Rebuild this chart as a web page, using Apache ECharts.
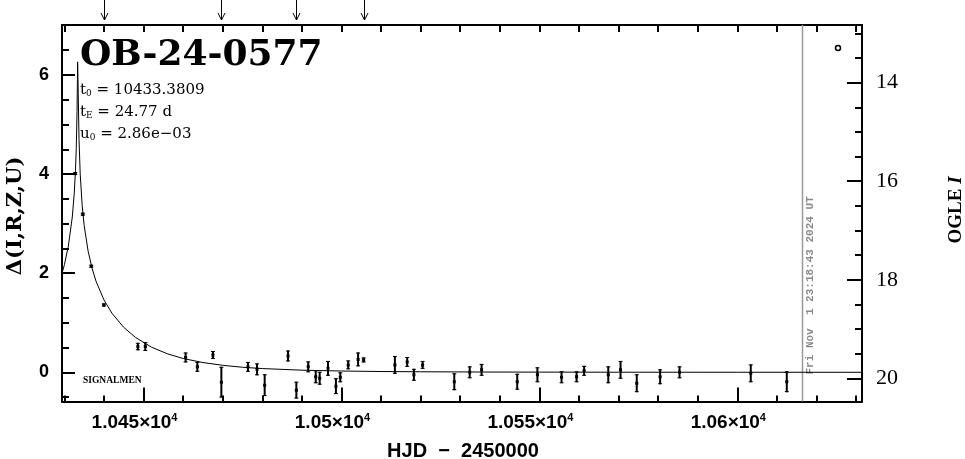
<!DOCTYPE html>
<html><head><meta charset="utf-8">
<script src="https://cdn.jsdelivr.net/npm/echarts@6/dist/echarts.min.js"></script>
<style>html,body{margin:0;padding:0;background:#fff}#c{width:965px;height:459px}</style>
</head><body><div id="c"></div>
<script>
// ---- axis ranges & ticks ----
const xMin = 10429.4, xMax = 10631.5;
const yMin = -0.589, yMax = 7.009;
const magMin = 12.829, magMax = 20.471;
const xMajorTicks = [10450, 10500, 10550, 10600];
const xMinorTicks = [10430,10440,10460,10470,10480,10490,10510,10520,10530,10540,10560,10570,10580,10590,10610,10620,10630];
const xTopTicks = [10430,10440,10450,10460,10470,10480,10490,10500,10510,10520,10530,10540,10550,10560,10570,10580,10590,10600,10610,10620,10630];
const yMajorTicks = [0, 2, 4, 6];
const yMinorTicks = [-0.5,0.5,1,1.5,2.5,3,3.5,4.5,5,5.5,6.5];
const magMajorTicks = [14, 16, 18, 20];
const magMinorTicks = [13,13.5,14.5,15,15.5,16.5,17,17.5,18.5,19,19.5];
const xTickLabels = {10450:'1.045', 10500:'1.05', 10550:'1.055', 10600:'1.06'};

// ---- observations (HJD-2450000, Δ, error) ----
const obsDay = [10432.74,10434.66,10436.79,10439.98,10448.57,10450.44,10460.63,10463.59,10467.53,10469.66,
  10476.38,10478.66,10480.60,10486.50,10488.60,10491.60,10493.50,10494.50,10496.60,10498.60,
  10499.70,10501.70,10504.20,10505.60,10513.50,10516.60,10518.30,10520.50,10528.50,10532.40,
  10535.40,10544.40,10549.50,10555.60,10559.40,10561.30,10567.40,10570.50,10574.60,10580.50,
  10585.40,10603.40,10612.50];
const obsDelta = [4.01,3.19,2.14,1.36,0.52,0.52,0.30,0.11,0.35,-0.20,
  0.11,0.06,-0.26,0.33,-0.36,0.11,-0.09,-0.12,0.08,-0.28,
  -0.10,0.15,0.26,0.25,0.15,0.21,-0.05,0.15,-0.19,0.00,
  0.05,-0.19,-0.05,-0.10,-0.09,0.03,-0.05,0.05,-0.22,-0.09,
  0.00,-0.02,-0.19];
const obsErr = [0.03,0.03,0.03,0.03,0.075,0.09,0.10,0.10,0.08,0.31,
  0.10,0.12,0.22,0.11,0.17,0.11,0.13,0.13,0.15,0.16,
  0.10,0.09,0.14,0.05,0.18,0.10,0.12,0.08,0.17,0.12,
  0.12,0.16,0.15,0.12,0.11,0.10,0.17,0.18,0.18,0.15,
  0.12,0.18,0.21];

// ---- model curve samples ----
const modelDay = [10429.4,10430,10431,10432,10432.5,10432.8,10433,10433.2,10433.3,10433.35,10433.5,10433.7,10434,10434.5,10435,
  10436,10437,10438,10440,10442,10445,10448,10452,10456,10460,10465,10470,10475,10480,10490,10500,10510,10520,10535,10550,10570,10600,10631.5];
const modelDelta = [1.995,2.170,2.546,3.134,3.620,4.066,4.514,5.264,5.906,6.265,5.631,4.699,3.999,3.361,2.962,
  2.444,2.097,1.837,1.461,1.194,0.906,0.702,0.508,0.374,0.279,0.197,0.141,0.102,0.076,0.043,0.026,0.016,0.011,0.006,0.004,0.002,0.001,0.0005];

const arrowDays = [10439.98, 10469.66, 10488.60, 10505.60];
const nowDay = 10616.47;
const nowText = 'Fri Nov  1 23:18:43 2024 UT';

const chart = echarts.init(document.getElementById('c'), null, {renderer:'canvas'});
const black = '#000';
const noLine = {show:false, onZero:false};

const option = {
  animation: false,
  backgroundColor: '#fff',
  grid: {left: 62, top: 25, width: 800, height: 376.5},
  xAxis: [
    {type:'value', position:'bottom', min:xMin, max:xMax,
     axisLine:{show:true, onZero:false, lineStyle:{color:black, width:2}},
     axisTick:{show:true, inside:true, length:14, customValues:xMajorTicks, lineStyle:{color:black, width:2}},
     axisLabel:{show:true, customValues:xMajorTicks, margin:11, color:black, padding:[0,18,0,0],
       formatter: v => '{m|' + xTickLabels[Math.round(v)] + '×10}{s|4}',
       rich:{m:{fontFamily:'Liberation Sans', fontWeight:'bold', fontSize:19, color:black},
             s:{fontFamily:'Liberation Sans', fontWeight:'bold', fontSize:11, color:black, verticalAlign:'top', padding:[0,0,9,0]}}},
     splitLine:{show:false}},
    {type:'value', position:'bottom', min:xMin, max:xMax, axisLine:noLine,
     axisTick:{show:true, inside:true, length:6, customValues:xMinorTicks, lineStyle:{color:black, width:2}},
     axisLabel:{show:false}, splitLine:{show:false}},
    {type:'value', position:'top', min:xMin, max:xMax,
     axisLine:{show:true, onZero:false, lineStyle:{color:black, width:2}},
     axisTick:{show:true, inside:true, length:7, customValues:xTopTicks, lineStyle:{color:black, width:2}},
     axisLabel:{show:false}, splitLine:{show:false}}
  ],
  yAxis: [
    {type:'value', position:'left', min:yMin, max:yMax,
     axisLine:{show:true, onZero:false, lineStyle:{color:black, width:2}},
     axisTick:{show:true, inside:true, length:13, customValues:yMajorTicks, lineStyle:{color:black, width:2}},
     axisLabel:{show:true, customValues:yMajorTicks, margin:13, color:black, fontFamily:'Liberation Sans', fontWeight:'bold', fontSize:18},
     splitLine:{show:false}},
    {type:'value', position:'left', min:yMin, max:yMax, axisLine:noLine,
     axisTick:{show:true, inside:true, length:7, customValues:yMinorTicks, lineStyle:{color:black, width:2}},
     axisLabel:{show:false}, splitLine:{show:false}},
    {type:'value', position:'right', inverse:true, min:magMin, max:magMax,
     axisLine:{show:true, onZero:false, lineStyle:{color:black, width:2}},
     axisTick:{show:true, inside:true, length:15, customValues:magMajorTicks, lineStyle:{color:black, width:2}},
     axisLabel:{show:true, customValues:magMajorTicks, margin:14, color:black, fontFamily:'Liberation Serif', fontSize:22},
     splitLine:{show:false}},
    {type:'value', position:'right', inverse:true, min:magMin, max:magMax, axisLine:noLine,
     axisTick:{show:true, inside:true, length:7, customValues:magMinorTicks, lineStyle:{color:black, width:2}},
     axisLabel:{show:false}, splitLine:{show:false}}
  ],
  series: [
    {type:'line', xAxisIndex:0, yAxisIndex:0, data: modelDay.map((d,i)=>[d, modelDelta[i]]),
     showSymbol:false, symbol:'none', smooth:false, clip:true,
     lineStyle:{color:black, width:1}},
    {type:'custom', xAxisIndex:0, yAxisIndex:0, clip:true,
     data: obsDay.map((d,i)=>[d, obsDelta[i], obsErr[i]]),
     renderItem: (params, api) => {
       const x = api.value(0), y = api.value(1), e = api.value(2);
       const c = api.coord([x, y]), hi = api.coord([x, y + e]), lo = api.coord([x, y - e]);
       const st = {stroke:black, lineWidth:2};
       return {type:'group', children:[
         {type:'line', shape:{x1:c[0], y1:hi[1], x2:c[0], y2:lo[1]}, style:st},
         {type:'line', shape:{x1:c[0]-2, y1:hi[1]+0.5, x2:c[0]+2, y2:hi[1]+0.5}, style:{stroke:black, lineWidth:1}},
         {type:'line', shape:{x1:c[0]-2, y1:lo[1]-0.5, x2:c[0]+2, y2:lo[1]-0.5}, style:{stroke:black, lineWidth:1}},
         {type:'rect', shape:{x:c[0]-1.5, y:c[1]-1.5, width:3, height:3}, style:{fill:black}}
       ]};
     }},
    {type:'custom', xAxisIndex:0, yAxisIndex:0, clip:false,
     data: arrowDays.map(d=>[d]),
     renderItem: (params, api) => {
       const p = api.coord([api.value(0), yMax]);
       const x = Math.round(p[0]) + 0.5, top = p[1];
       const st = {stroke:black, lineWidth:1, fill:null};
       return {type:'group', children:[
         {type:'line', shape:{x1:x, y1:top-25, x2:x, y2:top-5}, style:st},
         {type:'polyline', shape:{points:[[x-3.5, top-12], [x, top-5], [x+3.5, top-12]]}, style:st}
       ]};
     }},
    {type:'custom', xAxisIndex:0, yAxisIndex:0, clip:false,
     data: [[nowDay]],
     renderItem: (params, api) => {
       const t = api.coord([api.value(0), yMax]), b = api.coord([api.value(0), yMin]);
       return {type:'group', children:[
         {type:'line', shape:{x1:t[0], y1:t[1], x2:t[0], y2:b[1]}, style:{stroke:'#9a9a9a', lineWidth:1.5}},
         {type:'text', x:t[0]+7.5, y:b[1]-27, rotation:Math.PI/2,
          style:{text:nowText, fill:'#8a8a8a', font:'bold 11px "Liberation Mono"', align:'left', verticalAlign:'middle'}}
       ]};
     }}
  ],
  graphic: [
    {type:'text', left:80, top:38, style:{text:'OB-24-0577', fill:black, font:'bold 36px "DejaVu Serif"'}},
    {type:'text', x:80, y:80, style:{text:'{a|t}{s|0}{a| = 10433.3809}', fill:black,
      rich:{a:{fontFamily:'DejaVu Serif', fontSize:15, lineHeight:18, verticalAlign:'bottom', color:black},
            s:{fontFamily:'DejaVu Serif', fontSize:9, lineHeight:18, verticalAlign:'bottom', color:black}}}},
    {type:'text', x:80, y:102, style:{text:'{a|t}{s|E}{a| = 24.77 d}', fill:black,
      rich:{a:{fontFamily:'DejaVu Serif', fontSize:15, lineHeight:18, verticalAlign:'bottom', color:black},
            s:{fontFamily:'DejaVu Serif', fontSize:9, lineHeight:18, verticalAlign:'bottom', color:black}}}},
    {type:'text', x:80, y:124, style:{text:'{a|u}{s|0}{a| = 2.86e−03}', fill:black,
      rich:{a:{fontFamily:'DejaVu Serif', fontSize:15, lineHeight:18, verticalAlign:'bottom', color:black},
            s:{fontFamily:'DejaVu Serif', fontSize:9, lineHeight:18, verticalAlign:'bottom', color:black}}}},
    {type:'text', x:83, y:381, style:{text:'SIGNALMEN', fill:black, font:'bold 9.5px "Liberation Serif"', verticalAlign:'middle'}},
    {type:'circle', shape:{cx:838, cy:48, r:2.5}, style:{fill:'#fff', stroke:black, lineWidth:1.5}},
    {type:'text', x:16, y:216, rotation:Math.PI/2, style:{text:'Δ(I,R,Z,U)', fill:black, font:'bold 21px "DejaVu Serif"', align:'center', verticalAlign:'middle'}},
    {type:'text', x:956, y:210, rotation:Math.PI/2, style:{text:'{b|OGLE }{i|I}', align:'center', verticalAlign:'middle',
      rich:{b:{fontFamily:'Liberation Serif', fontWeight:'bold', fontSize:19, color:black},
            i:{fontFamily:'Liberation Serif', fontWeight:'bold', fontStyle:'italic', fontSize:19, color:black}}}},
    {type:'text', x:463, y:451, style:{text:'HJD  −  2450000', fill:black, font:'bold 20px "Liberation Sans"', align:'center', verticalAlign:'middle'}}
  ]
};
chart.setOption(option);
</script>
</body></html>
